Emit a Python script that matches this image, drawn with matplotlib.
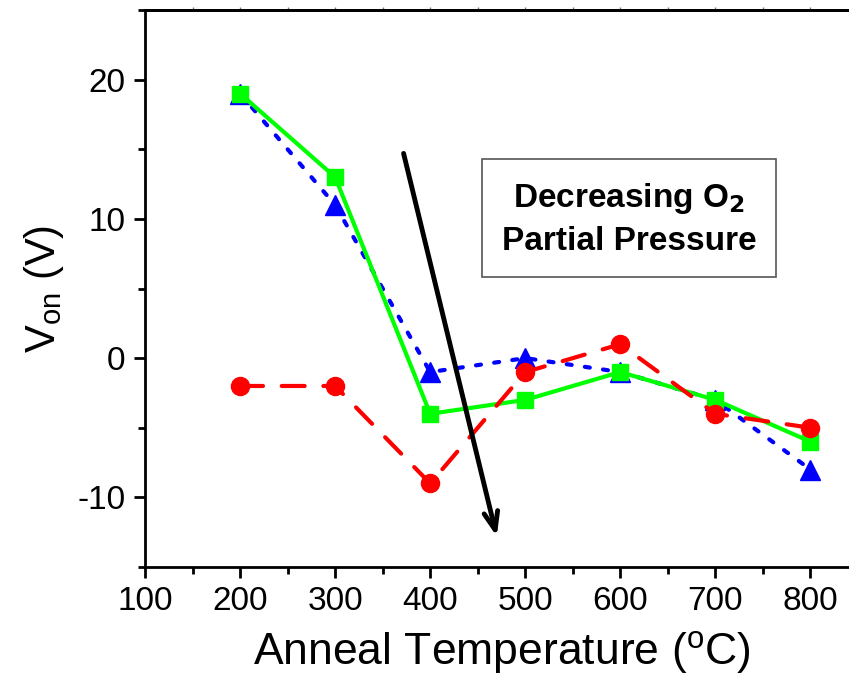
import matplotlib
matplotlib.use("Agg")
import matplotlib.pyplot as plt
from matplotlib.ticker import MultipleLocator

plt.rcParams['font.family'] = ['Liberation Sans', 'DejaVu Sans']
plt.rcParams['axes.unicode_minus'] = False

# anneal temperatures (C) and turn-on voltages (V)
temps = [200, 300, 400, 500, 600, 700, 800]
von_blue = [19, 11, -1, 0, -1, -3, -8]
von_green = [19, 13, -4, -3, -1, -3, -6]
von_red = [-2, -2, -9, -1, 1, -4, -5]

fig = plt.figure(figsize=(8.49, 6.85), dpi=100)
ax = fig.add_axes([145 / 849, 118 / 685, 713 / 849, 557 / 685])

ax.plot(temps, von_blue, color='#0000ff', lw=3, ls=(0, (1.2, 3.2)),
        dash_capstyle='round', marker='^', ms=15, mec='#0000ff', zorder=2)
ax.plot(temps, von_green, color='#00ff00', lw=3, ls='-',
        marker='s', ms=12, mec='#00ff00', zorder=3)
ax.plot(temps, von_red, color='#ff0000', lw=3, ls=(0, (5.5, 4.5)),
        dash_capstyle='round', marker='o', ms=13, mec='#ff0000', zorder=4)

# trend arrow
ax.annotate('', xy=(470, -12.8), xytext=(372, 14.7),
            arrowprops=dict(arrowstyle='->,head_length=1.3,head_width=0.5',
                            color='black', lw=3.5, shrinkA=0, shrinkB=0),
            zorder=5)

ax.text(609, 10.0, 'Decreasing O$_\\mathbf{2}$\nPartial Pressure',
        ha='center', va='center', fontsize=24, fontweight='bold',
        linespacing=1.4,
        bbox=dict(boxstyle='square,pad=0.6', fc='white', ec='#555555', lw=1.2))

ax.set_xlim(100, 850)
ax.set_ylim(-15, 25)
ax.xaxis.set_minor_locator(MultipleLocator(50))
ax.yaxis.set_minor_locator(MultipleLocator(5))
ax.set_xticks([100, 200, 300, 400, 500, 600, 700, 800])
ax.set_yticks([-10, 0, 10, 20])

for s in ax.spines.values():
    s.set_linewidth(2)
ax.tick_params(which='major', direction='out', length=8, width=2, labelsize=24, pad=6)
ax.tick_params(which='minor', direction='out', length=5, width=2)

# tiny ticks along the top spine
top = ax.secondary_xaxis('top')
top.set_xticks(list(range(150, 851, 50)))
top.tick_params(which='major', direction='out', length=2, width=1,
                color='#777777', labeltop=False)
top.spines['top'].set_linewidth(2)

ax.set_xlabel('Anneal Temperature ($\\mathregular{^o}$C)', fontsize=32, labelpad=8)
ax.set_ylabel('V$_\\mathregular{on}$ (V)', fontsize=30, labelpad=8)

fig.savefig('out.png', dpi=100)
